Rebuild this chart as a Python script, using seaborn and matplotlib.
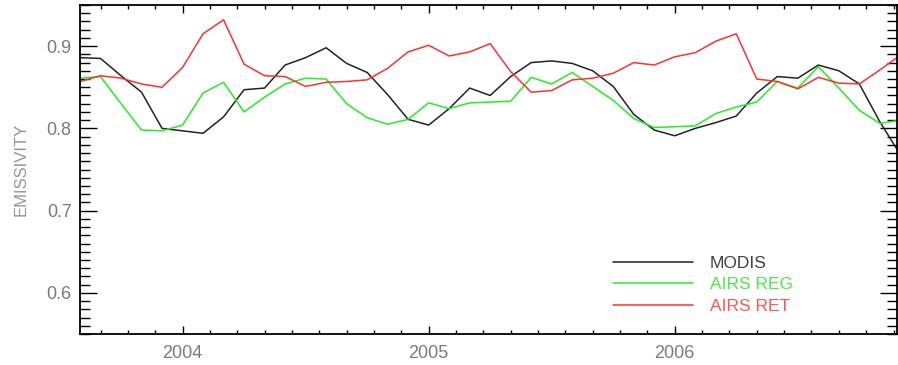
import numpy as np
import pandas as pd
import matplotlib
matplotlib.use("Agg")
import matplotlib.pyplot as plt
from matplotlib.ticker import MultipleLocator, FixedLocator
import seaborn as sns

# ---- data (monthly, Aug 2003 .. Dec 2006) ----
start_month = "2003-08"
n_months = 41
modis = [0.886, 0.885, 0.864, 0.844, 0.800, 0.797, 0.794, 0.814, 0.847, 0.849,
         0.877, 0.886, 0.898, 0.879, 0.868, 0.841, 0.811, 0.804, 0.824, 0.849,
         0.840, 0.863, 0.880, 0.882, 0.879, 0.870, 0.851, 0.817, 0.798, 0.791,
         0.800, 0.807, 0.815, 0.843, 0.863, 0.861, 0.877, 0.870, 0.854, 0.808,
         0.768]
airs_reg = [0.861, 0.863, 0.830, 0.798, 0.797, 0.804, 0.843, 0.856, 0.820, 0.838,
            0.854, 0.861, 0.860, 0.830, 0.813, 0.805, 0.811, 0.831, 0.824, 0.831,
            0.832, 0.833, 0.862, 0.854, 0.868, 0.851, 0.834, 0.812, 0.801, 0.802,
            0.803, 0.818, 0.826, 0.832, 0.857, 0.849, 0.875, 0.849, 0.822, 0.806,
            0.810]
airs_ret = [0.857, 0.864, 0.861, 0.854, 0.850, 0.874, 0.915, 0.932, 0.878, 0.864,
            0.863, 0.851, 0.856, 0.857, 0.859, 0.873, 0.893, 0.901, 0.888, 0.893,
            0.903, 0.869, 0.844, 0.846, 0.859, 0.861, 0.867, 0.880, 0.877, 0.887,
            0.892, 0.906, 0.915, 0.860, 0.857, 0.848, 0.862, 0.855, 0.854, 0.871,
            0.889]
series_names = ["MODIS", "AIRS REG", "AIRS RET"]
series_colors = ["#222222", "#22ee22", "#ff3030"]
label_colors = ["#404040", "#44ee44", "#ff5555"]
year_ticks = [2004, 2005, 2006]
y_ticks = [0.6, 0.7, 0.8, 0.9]

dates = pd.date_range(start_month, periods=n_months, freq="MS")
t = dates.year + (dates.month - 1) / 12.0

df = pd.concat([
    pd.DataFrame({"t": t, "v": vals, "series": name})
    for name, vals in zip(series_names, [modis, airs_reg, airs_ret])
], ignore_index=True)

sns.set_style("ticks")
plt.rcParams["font.family"] = ["Liberation Sans", "DejaVu Sans"]

fig = plt.figure(figsize=(8.98, 3.65), dpi=100)
ax = fig.add_axes([80 / 898, 31 / 365, 817 / 898, 329 / 365])

sns.lineplot(data=df, x="t", y="v", hue="series", hue_order=series_names,
             palette=series_colors, linewidth=1.1, ax=ax, legend=True)

ax.set_xlim(2003 + 7 / 12, 2006.903)
ax.set_ylim(0.55, 0.95)

ax.xaxis.set_major_locator(FixedLocator(year_ticks))
ax.xaxis.set_minor_locator(MultipleLocator(1 / 9))
ax.yaxis.set_major_locator(FixedLocator(y_ticks))
ax.yaxis.set_minor_locator(MultipleLocator(0.01))
ax.set_xticklabels([str(y) for y in year_ticks])
ax.set_yticklabels([f"{v:.1f}" for v in y_ticks])

gray = "#7a7a7a"
ax.tick_params(axis="x", which="major", direction="in", length=5.5, width=1.0,
               top=True, bottom=True, labelsize=13, labelcolor=gray, pad=8, color="black")
ax.tick_params(axis="x", which="minor", direction="in", length=2.8, width=1.0,
               top=True, bottom=True, color="black")
ax.tick_params(axis="y", which="major", direction="in", length=12, width=1.0,
               left=True, right=True, labelsize=13, labelcolor=gray, pad=6, color="black")
ax.tick_params(axis="y", which="minor", direction="in", length=7, width=1.0,
               left=True, right=True, color="black")

for s in ax.spines.values():
    s.set_visible(True)
    s.set_color("black")
    s.set_linewidth(1.3)

ax.set_xlabel("")
ax.set_ylabel("EMISSIVITY", fontsize=12, color="#959595", va="center")
ax.yaxis.set_label_coords(-0.072, 0.5)

handles, labels = ax.get_legend_handles_labels()
leg = ax.legend(handles, labels, loc="upper left", bbox_to_anchor=(0.652, 0.238),
                frameon=False, fontsize=12.5, handlelength=4.6, handletextpad=1.0,
                labelspacing=0.36, borderpad=0, borderaxespad=0,
                labelcolor=label_colors)

fig.savefig("out.png", dpi=100)
